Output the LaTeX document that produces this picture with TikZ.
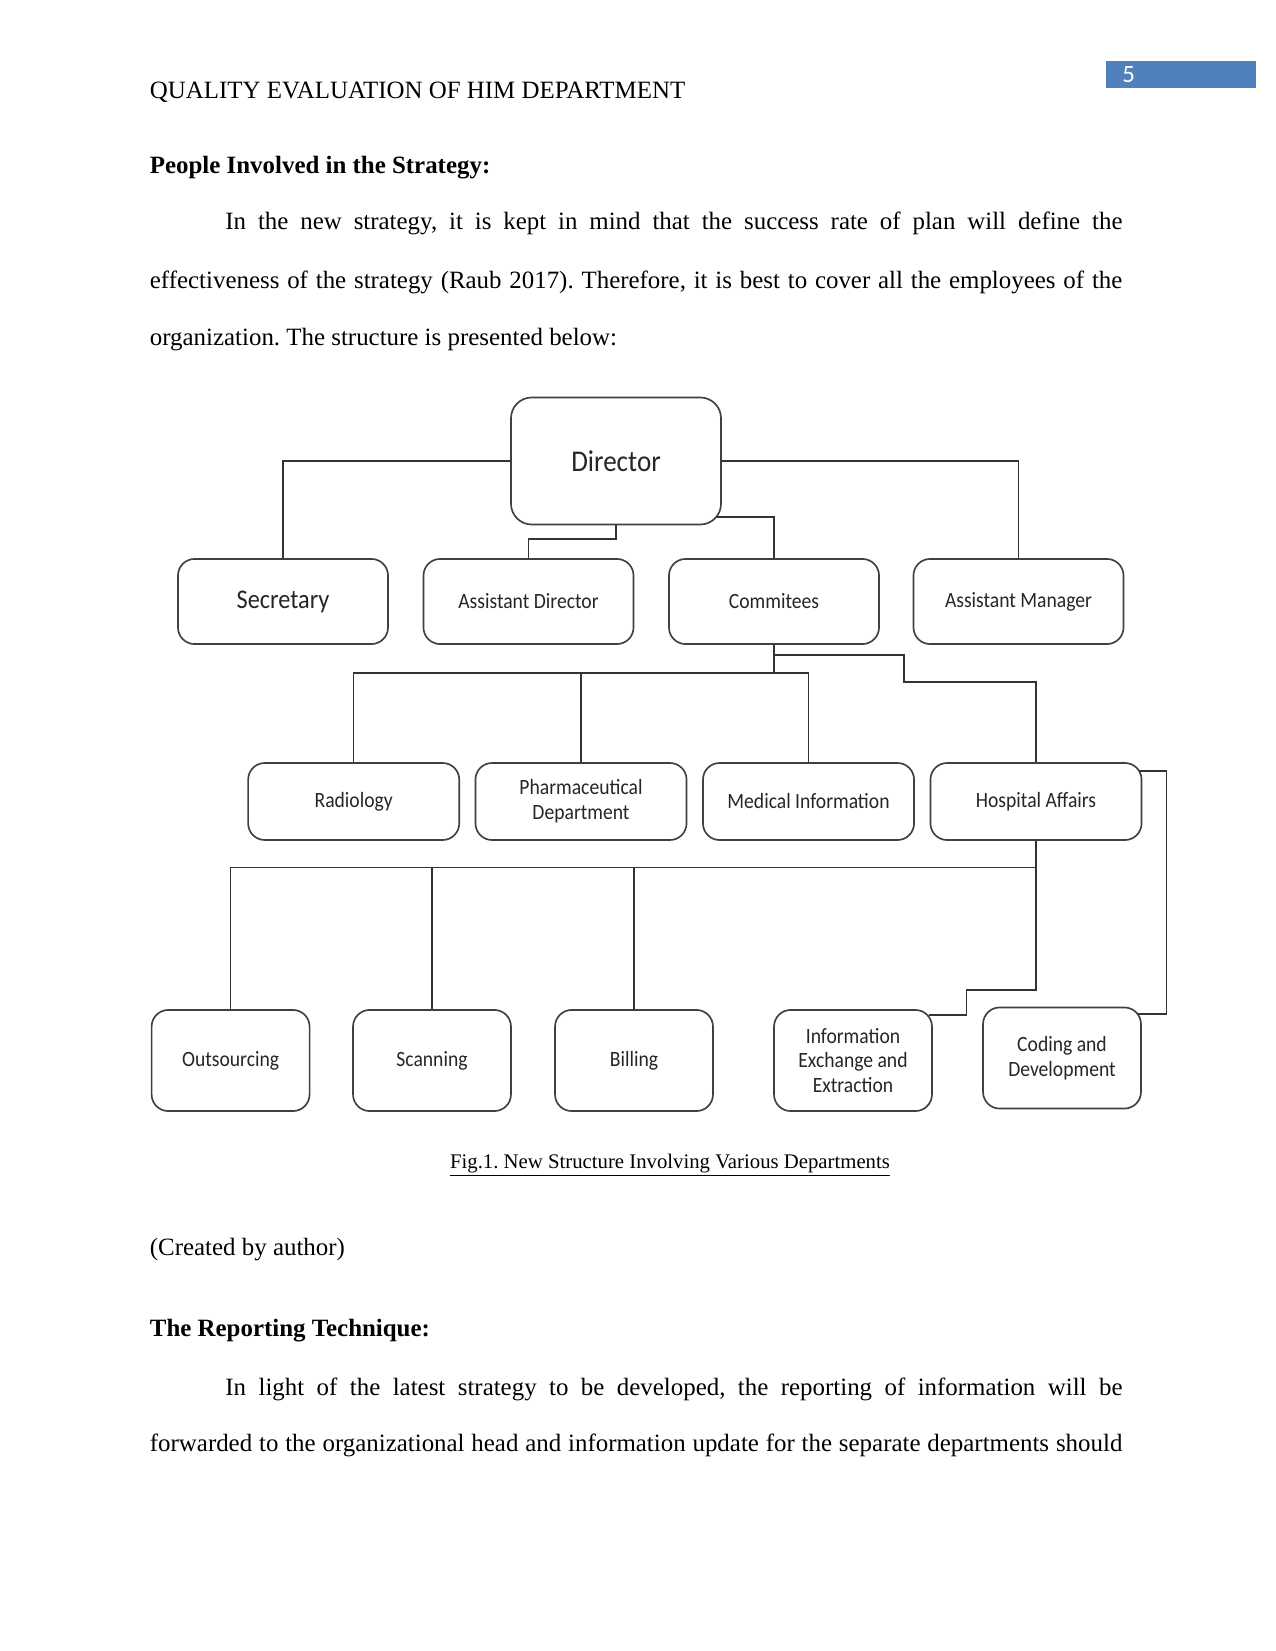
\documentclass[tikz,border=0pt]{standalone}
\usepackage{fontspec}
\setmainfont{Liberation Serif}
\newfontfamily\diafont[FakeStretch=0.9]{Carlito}
\newfontfamily\numfont{Carlito}
\usepackage{xcolor}
\usepackage{tikz}
\usetikzlibrary{positioning,calc}
\definecolor{pagebar}{HTML}{4F81BD}
\frenchspacing

\begin{document}
\begin{tikzpicture}[
  x=0.4818pt, y=-0.4818pt,
  every node/.style={inner sep=0pt},
  txt/.style={anchor=base west, font=\fontsize{12}{14}\selectfont},
  head/.style={anchor=base west, font=\fontsize{12}{14}\selectfont\bfseries},
  box/.style={draw=black!75, line width=0.8pt, rounded corners=8pt, fill=white, align=center,
    text=black!85, font=\diafont\fontsize{10.5}{12}\selectfont},
  toprow/.style={box, minimum width=101.2pt, minimum height=41pt},
  midrow/.style={box, minimum width=101.7pt, minimum height=37.1pt},
  lowrow/.style={box, minimum width=76.1pt, minimum height=48.7pt},
  link/.style={draw=black!80, line width=0.7pt}
]
  \useasboundingbox (0,0) rectangle (1275,1651);

  \fill[pagebar] (1106,61) rectangle (1256,88) coordinate (pgbox);
  \node[anchor=base west, text=white, font=\numfont\fontsize{12}{14}\selectfont] (pgno) at (1122,82.5) {5};
  \node[txt] (runhead) at (149.5,98.3) {QUALITY EVALUATION OF HIM DEPARTMENT};

  \node[head] (sec1) at (149.5,173.3) {People Involved in the Strategy:};
  \node[txt] (p1a) at (225,230) {\makebox[432.2pt][s]{In the new strategy, it is kept in mind that the success rate of plan will define the}};
  \node[txt] (p1b) at (149.5,288.3) {\makebox[468.5pt][s]{effectiveness of the strategy (Raub 2017). Therefore, it is best to cover all the employees of the}};
  \node[txt] (p1c) at (149.5,345.7) {organization. The structure is presented below:};

  \node[box, minimum width=101.2pt, minimum height=61.2pt, rounded corners=10pt,
    font=\diafont\fontsize{14.5}{16}\selectfont] (dir) at (616,461) {Director};

  \node[toprow, font=\diafont\fontsize{13}{15}\selectfont] (secr) at (283,601.5) {Secretary};
  \node[toprow] (asdir) at (528.5,601.5) {Assistant Director};
  \node[toprow] (comm) at (774,601.5) {Commitees};
  \node[toprow] (asman) at (1018.5,601.5) {Assistant Manager};

  \node[midrow] (radio) at (353.7,801.5) {Radiology};
  \node[midrow] (pharm) at (581,801.5) {Pharmaceutical\\Department};
  \node[midrow] (medinf) at (808.5,801.5) {Medical Information};
  \node[midrow] (hosp) at (1036,801.5) {Hospital Affairs};

  \node[lowrow] (outs) at (230.6,1060.5) {Outsourcing};
  \node[lowrow] (scan) at (432,1060.5) {Scanning};
  \node[lowrow] (bill) at (634,1060.5) {Billing};
  \node[lowrow] (infex) at (853,1060.5) {Information\\Exchange and\\Extraction};
  \node[lowrow] (coding) at (1062,1058) {Coding and\\Development};

  \coordinate (dircorner) at (717,517);
  \coordinate (bus1) at (774,673);
  \coordinate (bus2) at (1036,867.5);
  \coordinate (hospside) at (1139,771);
  \coordinate (infside) at (929,1015);
  \coordinate (codside) at (1138,1014);

  \draw[link] (dir.west) -| (secr.north);
  \draw[link] (dir.east) -| (asman.north);
  \draw[link] (dir.south) -- ++(0,13.5) -| (asdir.north);
  \draw[link] (dircorner) -| (comm.north);

  \draw[link] (comm.south) -- (bus1);
  \draw[link] (radio.north) |- (bus1);
  \draw[link] (pharm.north) -- (pharm.north |- bus1);
  \draw[link] (medinf.north) |- (bus1);
  \draw[link] (comm.south) |- ++(130,10) |- ++(132,27) -- (hosp.north);

  \draw[link] (hosp.south) -- (bus2);
  \draw[link] (outs.north) |- (bus2);
  \draw[link] (scan.north) -- (scan.north |- bus2);
  \draw[link] (bill.north) -- (bill.north |- bus2);
  \draw[link] (bus2) |- (966.5,990) |- (infside);
  \draw[link] (hospside) -| (1166.5,1014) -- (codside);

  \node[anchor=base, font=\fontsize{10}{12}\selectfont] (caption) at (670,1168) {\underline{Fig.1. New Structure Involving Various Departments}};

  \node[txt] (credit) at (149.5,1255) {(Created by author)};
  \node[head] (sec2) at (149.5,1336.7) {The Reporting Technique:};
  \node[txt] (p2a) at (225,1395) {\makebox[432.2pt][s]{In light of the latest strategy to be developed, the reporting of information will be}};
  \node[txt] (p2b) at (149.5,1451.7) {\makebox[468.5pt][s]{forwarded to the organizational head and information update for the separate departments should}};
\end{tikzpicture}
\end{document}
